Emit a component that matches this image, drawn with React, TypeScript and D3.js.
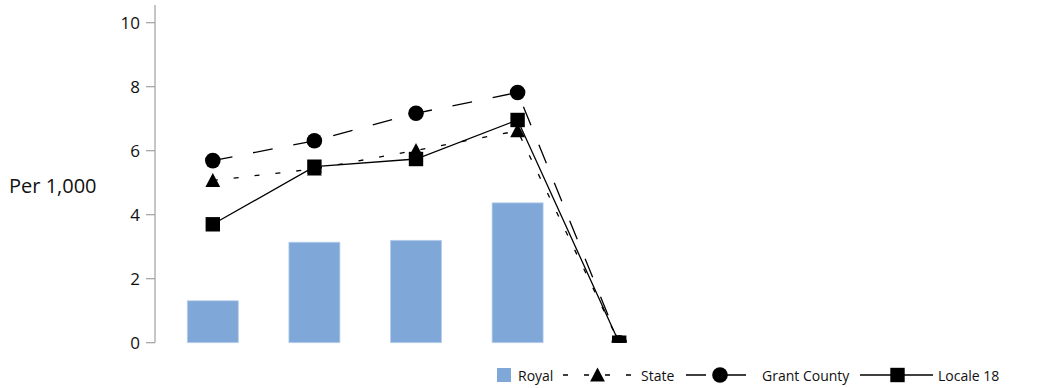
import React from "react";
import * as d3 from "d3";

const categories = ["1", "2", "3", "4", "5"];
const royal = [1.31, 3.14, 3.2, 4.37, 0];
const state = [5.07, 5.43, 6.01, 6.62, 0];
const grantCounty = [5.69, 6.31, 7.17, 7.82, 0];
const locale18 = [3.7, 5.5, 5.74, 6.96, 0];
const yTicks = [0, 2, 4, 6, 8, 10];

const W = 1042;
const H = 388;
const FONT = "'Open Sans', 'Noto Sans', sans-serif";

export default function App() {
  const x = d3.scalePoint<string>().domain(categories).range([212.8, 619.2]);
  const y = d3.scaleLinear().domain([0, 10]).range([342.7, 22.7]);
  const barW = 51;
  const line = d3
    .line<number>()
    .x((_, i) => x(categories[i]) as number)
    .y((d) => y(d));

  const series = [
    { name: "State", values: state, dash: "5,16", marker: "triangle" },
    { name: "Grant County", values: grantCounty, dash: "20,21", marker: "circle" },
    { name: "Locale 18", values: locale18, dash: "", marker: "square" },
  ];

  const marker = (type: string, cx: number, cy: number, key?: any) => {
    if (type === "circle") return <circle key={key} cx={cx} cy={cy} r={7.8} fill="#000" />;
    if (type === "square")
      return <rect key={key} x={cx - 7.2} y={cy - 7.2} width={14.4} height={14.4} fill="#000" />;
    return (
      <path
        key={key}
        d={`M${cx},${cy - 7.5} L${cx + 7.4},${cy + 6.5} L${cx - 7.4},${cy + 6.5} Z`}
        fill="#000"
      />
    );
  };

  const legendItems = [
    { s: series[0], x0: 563, x1: 632, mx: 597.5, tx: 641 },
    { s: series[1], x0: 686, x1: 746, mx: 720, tx: 762 },
    { s: series[2], x0: 860, x1: 933, mx: 897.5, tx: 938 },
  ];
  const ly = 375;

  return (
    <div style={{ position: "absolute", left: 0, top: 0 }}>
      <svg width={W} height={H} style={{ display: "block", background: "#fff" }}>
        <defs>
          <clipPath id="plot">
            <rect x={155} y={0} width={W - 155} height={y(0) - 0} />
          </clipPath>
        </defs>
        {/* y axis */}
        <line x1={155} x2={155} y1={5} y2={y(0)} stroke="#a0a0a0" strokeWidth={1.2} />
        {yTicks.map((t) => (
          <g key={t}>
            <line x1={146} x2={155} y1={y(t)} y2={y(t)} stroke="#a0a0a0" strokeWidth={1.2} />
            <text
              x={140}
              y={y(t)}
              dy="0.36em"
              textAnchor="end"
              fontFamily={FONT}
              fontSize={17}
              fill="#111"
            >
              {t}
            </text>
          </g>
        ))}
        <text x={9} y={193} fontFamily={FONT} fontSize={20} fill="#111">
          Per 1,000
        </text>
        {/* bars */}
        {royal.map((v, i) =>
          v > 0 ? (
            <rect
              key={i}
              x={(x(categories[i]) as number) - barW / 2}
              y={y(v)}
              width={barW}
              height={y(0) - y(v)}
              fill="#7FA7D8"
              stroke="#b8cfec"
              strokeWidth={0.8}
            />
          ) : null
        )}
        {/* lines */}
        <g clipPath="url(#plot)">
          {series.map((s) => (
            <g key={s.name}>
              <path
                d={line(s.values) as string}
                fill="none"
                stroke="#000"
                strokeWidth={1.3}
                strokeDasharray={s.dash || undefined}
              />
              {s.values.map((v, i) => marker(s.marker, x(categories[i]) as number, y(v), i))}
            </g>
          ))}
        </g>
        {/* legend */}
        <rect x={497} y={368} width={14} height={14} fill="#7FA7D8" />
        <text x={518} y={380.5} fontFamily={FONT} fontSize={14} fill="#111">
          Royal
        </text>
        {legendItems.map((it) => (
          <g key={it.s.name}>
            <line
              x1={it.x0}
              x2={it.x1}
              y1={ly}
              y2={ly}
              stroke="#000"
              strokeWidth={1.3}
              strokeDasharray={it.s.dash || undefined}
            />
            {marker(it.s.marker, it.mx, ly)}
            <text x={it.tx} y={380.5} fontFamily={FONT} fontSize={14} fill="#111">
              {it.s.name}
            </text>
          </g>
        ))}
      </svg>
    </div>
  );
}
